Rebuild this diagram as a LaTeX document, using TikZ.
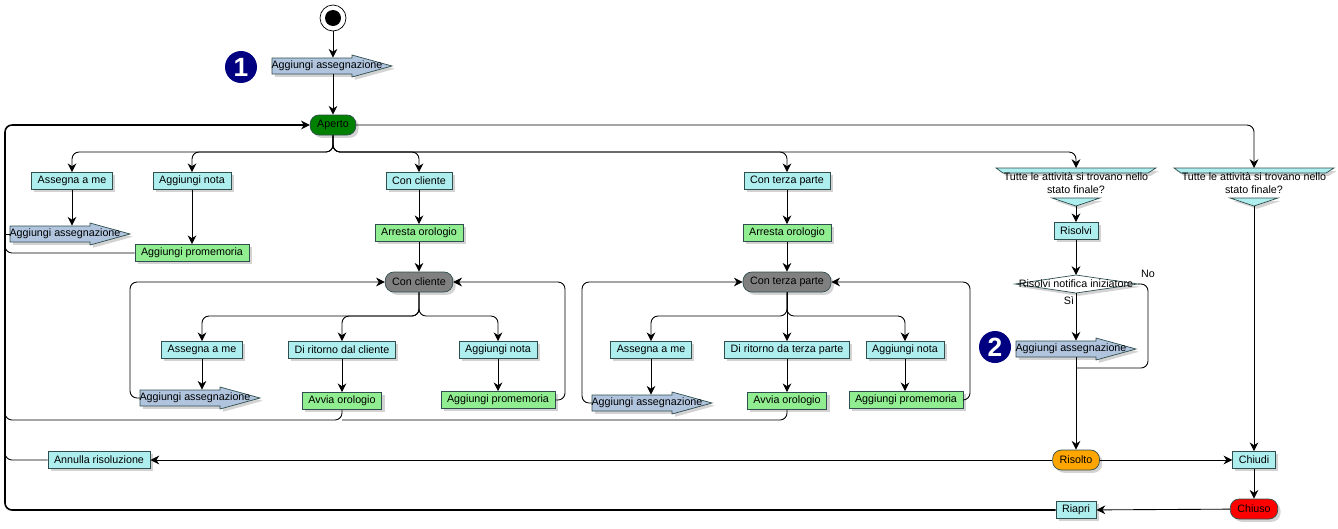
\documentclass[tikz,border=0pt]{standalone}
\usepackage{fontspec}
\setmainfont{Liberation Sans}
\usetikzlibrary{arrows.meta,shadows}
\definecolor{cy}{RGB}{175,238,238}
\definecolor{lg}{RGB}{144,238,144}
\definecolor{sb}{RGB}{176,196,222}
\definecolor{dg}{RGB}{0,128,0}
\definecolor{bd}{RGB}{47,79,79}
\definecolor{nv}{RGB}{0,0,128}
\definecolor{or}{RGB}{255,165,0}
\newcommand\ff{\fontsize{6.1}{7.2}\selectfont}
\tikzset{
  shd/.style={drop shadow={opacity=0.35,shadow xshift=1.6pt,shadow yshift=-1.6pt,fill=gray}},
  act/.style={draw=bd,fill=cy,minimum height=0.34cm,inner xsep=3.5pt,inner ysep=1pt,font=\ff,shd},
  gact/.style={act,fill=lg},
  st/.style={act,rounded corners=5pt,minimum height=0.4cm,inner xsep=4pt},
  sendst/.style={draw=bd,fill=sb,shd},
  sendn/.style={minimum width=2.2cm,minimum height=0.32cm,inner sep=0pt,font=\ff},
  dec/.style={draw=bd,fill=cy,shd},
  ln/.style={line width=0.5pt,rounded corners=4pt},
  arr/.style={ln,-{Stealth[length=5pt,width=5pt]}},
  tk/.style={line width=0.9pt},
  badge/.style={circle,fill=nv,text=white,minimum size=0.64cm,inner sep=0pt,font=\bfseries\fontsize{15}{15}\selectfont},
}
\newcommand\sendsig[4]{% name, L, Y, text
  \filldraw[sendst] (#2,#3-8) -- (#2+80,#3-8) -- (#2+80,#3-11) -- (#2+120,#3) -- (#2+80,#3+11) -- (#2+80,#3+8) -- (#2,#3+8) -- cycle;
  \node[sendn] (#1) at (#2+55,#3) {#4};
  \coordinate (#1w) at (#2,#3);
}
\newcommand\decis[4]{% name, X, Y, text
  \filldraw[dec] (#2-80,#3-10) -- (#2+80,#3-10) -- (#2+72,#3-5) -- (#2-73,#3-5) -- cycle;
  \filldraw[dec] (#2-24,#3+20) -- (#2+24,#3+20) -- (#2,#3+28) -- cycle;
  \node[font=\ff,align=center,inner sep=0pt] (#1) at (#2,#3+5) {#4};
  \coordinate (#1t) at (#2,#3-10);
  \coordinate (#1b) at (#2,#3+28);
}
\begin{document}
\begin{tikzpicture}[x=0.02cm,y=-0.02cm]
\useasboundingbox (0,0) rectangle (1338,528);
% start
\node[circle,draw,minimum size=0.52cm,inner sep=0pt] (start) at (333,18) {};
\node[circle,fill=black,minimum size=0.32cm,inner sep=0pt] at (start) {};
\node[badge] (b1) at (241,67) {1};
\node[badge] (b2) at (995,347) {2};
\sendsig{s1}{272}{66}{Aggiungi assegnazione}
\node[st,fill=dg] (ap) at (333,125) {Aperto};
% first row
\node[act] (a1) at (72,181) {Assegna a me};
\node[act] (n1) at (192,181) {Aggiungi nota};
\node[act] (cc) at (419,181) {Con cliente};
\node[act] (ct) at (787,181) {Con terza parte};
\decis{d1}{1076}{178}{Tutte le attività si trovano nello\\stato finale?}
\decis{d2}{1254}{178}{Tutte le attività si trovano nello\\stato finale?}
\sendsig{s2}{10}{234}{Aggiungi assegnazione}
\node[gact] (pm1) at (192,253) {Aggiungi promemoria};
\node[gact] (ar1) at (419,233) {Arresta orologio};
\node[gact] (ar2) at (787,233) {Arresta orologio};
\node[act] (rs) at (1076,231) {Risolvi};
\node[st,fill=gray] (gc) at (419,282) {Con cliente};
\node[st,fill=gray] (gt) at (787,282) {Con terza parte};
% sub cliente
\node[act] (a2) at (202,350) {Assegna a me};
\node[act] (dr1) at (342,350) {Di ritorno dal cliente};
\node[act] (n2) at (498,350) {Aggiungi nota};
\sendsig{s3}{140}{398}{Aggiungi assegnazione}
\node[gact] (ao1) at (342,401) {Avvia orologio};
\node[gact] (pm2) at (498,400) {Aggiungi promemoria};
% sub terza
\node[act] (a3) at (651,350) {Assegna a me};
\node[act] (dr2) at (787,350) {Di ritorno da terza parte};
\node[act] (n3) at (905,350) {Aggiungi nota};
\sendsig{s4}{592}{403}{Aggiungi assegnazione}
\node[gact] (ao2) at (787,401) {Avvia orologio};
\node[gact] (pm3) at (906,400) {Aggiungi promemoria};
% resolve decision
\filldraw[fill=white,draw=bd,shd] (1015,284) -- (1076,275) -- (1138,284) -- (1076,293) -- cycle;
\node[font=\ff,inner sep=0pt] (rni) at (1076,284) {Risolvi notifica iniziatore};
\coordinate (rnib) at (1076,293);
\coordinate (rnir) at (1138,284);
\coordinate (rnit) at (1076,275);
\node[font=\ff,inner sep=0pt] (no) at (1148,274) {No};
\node[font=\ff,inner sep=0pt] (si) at (1069,301) {Sì};
\sendsig{s5}{1016}{349}{Aggiungi assegnazione}
\node[st,fill=or] (ro) at (1076,460) {Risolto};
\node[act] (ch) at (1254,460) {Chiudi};
\node[st,fill=red] (cs) at (1254,509) {Chiuso};
\node[act] (ri) at (1076,510) {Riapri};
\node[act] (an) at (99,460) {Annulla risoluzione};
% connectors
\draw[arr] (start) -- (start |- s1.north);
\draw[arr] (s1.south -| ap) -- (ap);
\coordinate (bus) at (333,152);
\draw[arr] (ap.south) -- (bus) -| (a1);
\draw[arr] (ap.south) -- (bus) -| (n1);
\draw[arr] (ap.south) -- (bus) -| (cc);
\draw[arr] (ap.south) -- (bus) -| (ct);
\draw[arr] (ap.south) -- (bus) -| (d1t);
\draw[arr] (ap.east) -| (d2t);
\draw[arr] (a1.south) -- (a1.south |- s2.north);
\draw[arr] (n1) -- (pm1);
\draw[arr] (cc) -- (ar1);
\draw[arr] (ar1) -- (gc);
\draw[arr] (ct) -- (ar2);
\draw[arr] (ar2) -- (gt);
\coordinate (bc) at (419,316);
\draw[arr] (gc.south) -- (bc) -| (a2);
\draw[arr] (gc.south) -- (bc) -| (dr1);
\draw[arr] (gc.south) -- (bc) -| (n2);
\coordinate (bt) at (787,316);
\draw[arr] (gt.south) -- (bt) -| (a3);
\draw[arr] (gt.south) -- (bt) -| (dr2);
\draw[arr] (gt.south) -- (bt) -| (n3);
\draw[arr] (a2.south) -- (a2.south |- s3.north);
\draw[arr] (dr1) -- (ao1);
\draw[arr] (n2) -- (pm2);
\draw[arr] (a3.south) -- (a3.south |- s4.north);
\draw[arr] (dr2) -- (ao2);
\draw[arr] (n3.south) -- (n3.south |- pm3.north);
\draw[arr] (s3w) -- (130,398) |- (gc.west);
\draw[arr] (pm2.east) -- (565,400) |- (gc.east);
\draw[arr] (s4w) -- (582,403) |- (gt.west);
\draw[arr] (pm3.east) -- (970,400) |- (gt.east);
% main loop
\draw[arr,tk] (ri.west) -| (5,300) |- (ap.west);
\draw[ln] (s2w) -- (5,234);
\draw[ln] (pm1.west) -| (5,240);
\draw[ln] (ao1.south) |- (5,420) -- (5,400);
\draw[ln] (ao2.south) |- (342,420);
\draw[ln] (an.west) -| (5,440);
% resolve path
\draw[arr] (d1b) -- (rs);
\draw[arr] (rs) -- (rnit);
\draw[arr] (rnib) -- (rnib |- s5.north);
\draw[arr] (s5.south -| ro) -- (ro);
\draw[ln] (rnir) -- (1148,284) -- (1148,368) -- (1076,368);
\draw[arr] (d2b) -- (ch);
\draw[arr] (ro) -- (ch);
\draw[arr] (ro) -- (an);
\draw[arr] (ch) -- (cs);
\draw[arr] (cs) -- (ri);
\end{tikzpicture}
\end{document}
